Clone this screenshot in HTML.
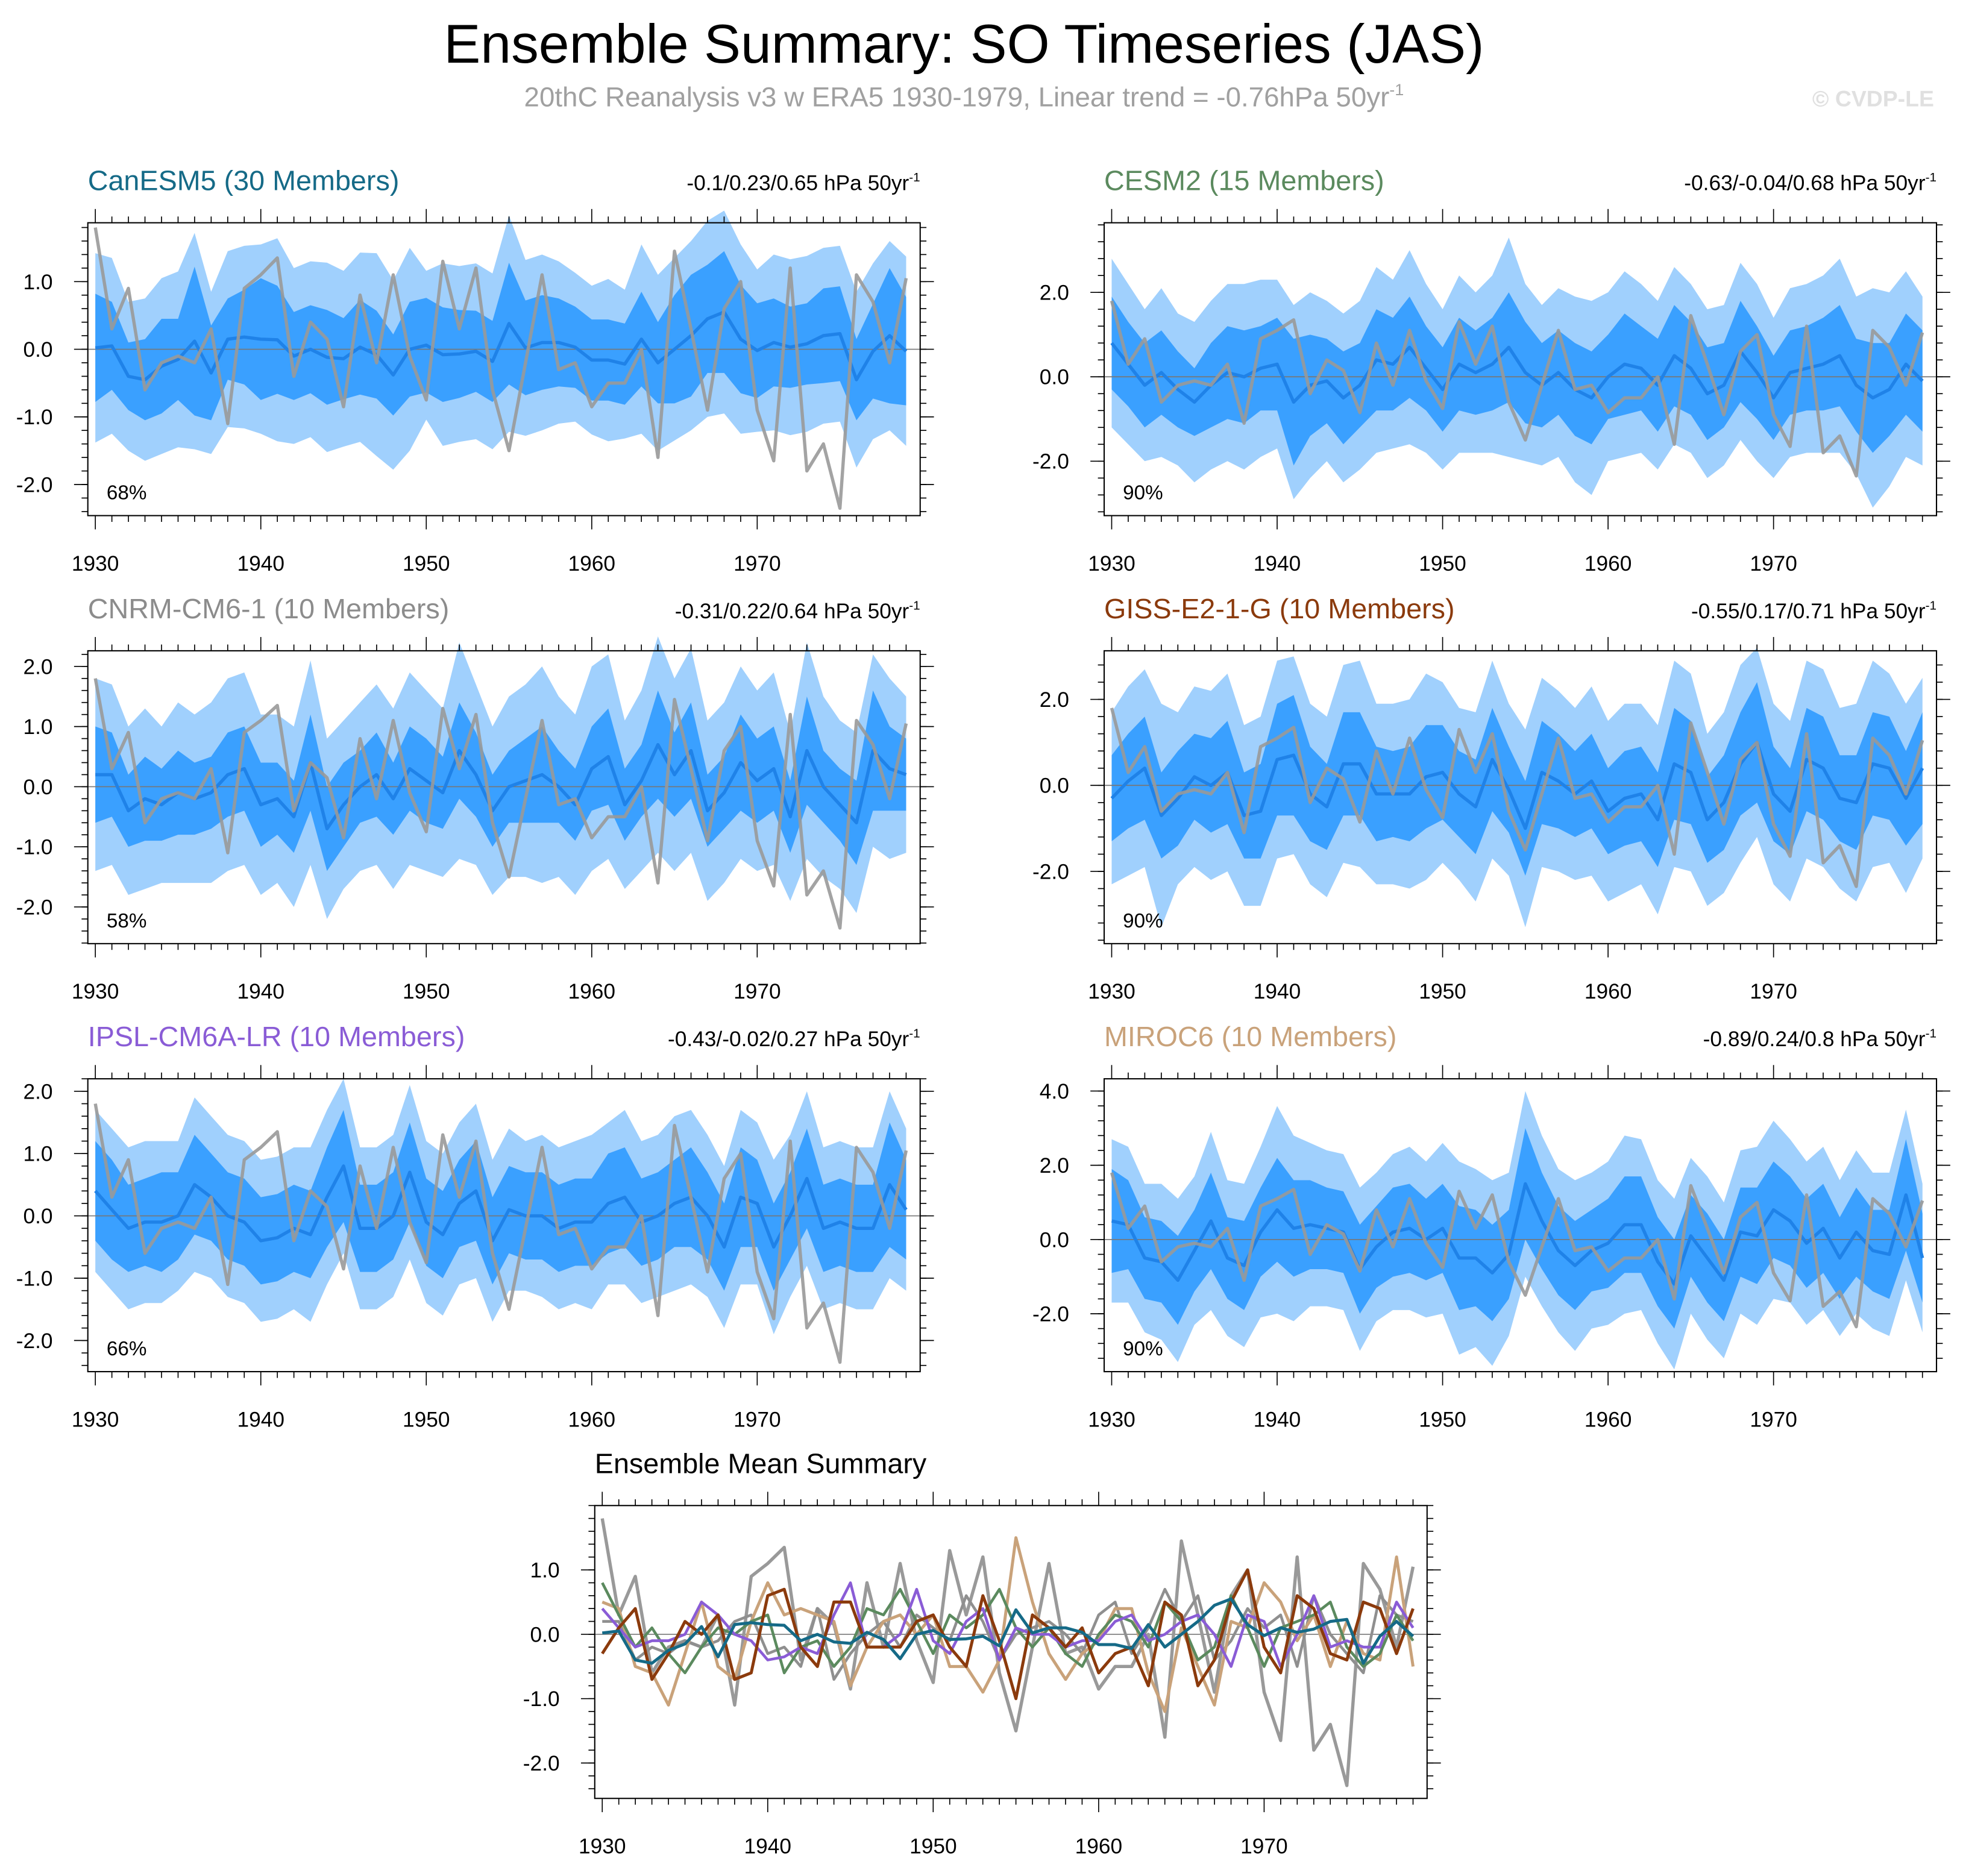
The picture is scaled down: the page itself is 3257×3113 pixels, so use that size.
<!DOCTYPE html>
<html><head><meta charset="utf-8">
<style>
html,body{margin:0;padding:0;background:#fff;}
svg{display:block;font-family:"Liberation Sans",sans-serif;}
</style></head>
<body>
<svg id="fig" width="3257" height="3113" viewBox="0 0 1568 1499" xmlns="http://www.w3.org/2000/svg">
<text x="770" y="50" font-size="44" text-anchor="middle" fill="#000">Ensemble Summary: SO Timeseries (JAS)</text>
<text x="770" y="85" font-size="22" text-anchor="middle" fill="#a0a0a0">20thC Reanalysis v3 w ERA5 1930-1979, Linear trend = -0.76hPa 50yr<tspan font-size="13" dy="-9">-1</tspan></text>
<text x="1545" y="85" font-size="18" font-weight="bold" text-anchor="end" fill="#e0e0e0">© CVDP-LE</text>
</svg>
<script>
const years = [];
for (let y = 1930; y <= 1979; y++) years.push(y);
const obs = [1.8,0.3,0.9,-0.6,-0.2,-0.1,-0.2,0.3,-1.1,0.9,1.1,1.35,-0.4,0.4,0.15,-0.85,0.8,-0.2,1.1,-0.1,-0.75,1.3,0.3,1.2,-0.6,-1.5,-0.2,1.1,-0.3,-0.2,-0.85,-0.5,-0.5,0.0,-1.6,1.45,0.3,-0.9,0.6,1.0,-0.9,-1.65,1.2,-1.8,-1.4,-2.35,1.1,0.7,-0.2,1.05];
const meanCan = [0.02,0.05,-0.4,-0.45,-0.25,-0.15,0.12,-0.35,0.15,0.18,0.15,0.14,-0.1,0.0,-0.12,-0.14,0.03,-0.08,-0.38,0.0,0.06,-0.08,-0.07,-0.03,-0.18,0.38,0.02,0.1,0.1,0.03,-0.16,-0.16,-0.22,0.15,-0.2,0.0,0.2,0.45,0.55,0.15,-0.02,0.1,0.03,0.08,0.2,0.23,-0.45,-0.03,0.2,-0.03];
const innerCan = [0.8,0.65,0.5,0.6,0.7,0.6,1.1,0.7,0.6,0.7,0.9,0.8,0.65,0.65,0.7,0.6,0.7,0.65,0.6,0.7,0.7,0.7,0.65,0.6,0.6,0.9,0.7,0.7,0.65,0.6,0.6,0.6,0.6,0.7,0.6,0.8,0.9,0.8,0.9,0.8,0.7,0.65,0.6,0.6,0.7,0.7,0.6,0.7,1.0,0.8];
const outerCan = [1.4,1.3,1.1,1.2,1.3,1.3,1.6,1.2,1.3,1.35,1.4,1.5,1.3,1.3,1.4,1.3,1.4,1.5,1.4,1.5,1.1,1.35,1.3,1.3,1.3,1.6,1.3,1.3,1.2,1.1,1.1,1.2,1.1,1.4,1.3,1.35,1.4,1.45,1.5,1.4,1.2,1.3,1.3,1.3,1.3,1.3,1.3,1.3,1.4,1.4];
const meanCes = [0.8,0.3,-0.2,0.1,-0.3,-0.6,-0.2,0.1,0.0,0.2,0.3,-0.6,-0.2,-0.1,-0.5,-0.2,0.4,0.3,0.7,0.2,-0.3,0.3,0.1,0.3,0.7,0.1,-0.2,0.1,-0.3,-0.5,0.0,0.3,0.2,-0.2,0.5,0.2,-0.4,-0.2,0.6,0.1,-0.5,0.1,0.2,0.3,0.5,-0.2,-0.5,-0.3,0.3,-0.1];
const innerCes = [1.1,1.0,1.0,1.0,0.9,0.8,1.0,1.1,1.1,1.0,1.1,1.5,1.2,1.0,1.1,1.0,1.2,1.1,1.2,1.0,1.0,1.1,1.0,1.1,1.3,1.2,1.0,1.0,1.1,1.1,1.0,1.2,1.0,1.1,1.2,1.1,1.1,1.0,1.2,1.1,1.0,1.0,1.0,1.1,1.2,1.1,1.3,1.1,1.2,1.2];
const outerCes = [2.0,1.9,1.8,2.0,1.8,1.9,2.0,2.1,2.2,2.1,2.0,2.3,2.2,1.9,2.0,2.0,2.2,2.0,2.3,2.0,1.9,2.1,1.9,2.1,2.6,2.1,1.9,2.0,2.2,2.3,2.0,2.2,2.0,2.0,2.1,2.0,2.0,1.9,2.1,2.1,1.9,2.0,2.0,2.1,2.3,2.1,2.6,2.3,2.2,2.0];
const meanCnr = [0.2,0.2,-0.4,-0.2,-0.3,-0.1,-0.2,-0.1,0.2,0.3,-0.3,-0.2,-0.5,0.4,-0.7,-0.3,0.0,0.2,-0.2,0.3,0.1,-0.1,0.6,0.2,-0.4,0.0,0.1,0.2,0.0,-0.3,0.3,0.5,-0.3,0.1,0.7,0.2,0.6,-0.4,-0.1,0.4,0.1,0.3,-0.5,0.6,0.0,-0.3,-0.6,0.6,0.3,0.2];
const innerCnr = [0.8,0.7,0.6,0.7,0.6,0.7,0.6,0.6,0.7,0.7,0.7,0.6,0.6,0.8,0.7,0.7,0.6,0.7,0.6,0.7,0.7,0.6,0.8,0.7,0.6,0.6,0.7,0.8,0.6,0.6,0.7,0.8,0.6,0.6,0.9,0.7,0.8,0.6,0.6,0.8,0.7,0.7,0.6,0.9,0.6,0.6,0.7,1.0,0.7,0.6];
const outerCnr = [1.6,1.5,1.4,1.5,1.3,1.5,1.4,1.5,1.6,1.6,1.5,1.4,1.5,1.7,1.5,1.4,1.4,1.5,1.5,1.6,1.5,1.4,1.8,1.5,1.4,1.5,1.6,1.8,1.5,1.5,1.7,1.7,1.4,1.5,1.8,1.6,1.7,1.5,1.5,1.6,1.5,1.6,1.4,1.8,1.5,1.4,1.5,1.6,1.5,1.3];
const meanGis = [-0.3,0.1,0.4,-0.7,-0.3,0.2,0.0,0.3,-0.7,-0.6,0.6,0.7,-0.2,-0.5,0.5,0.5,-0.2,-0.2,-0.2,0.2,0.3,-0.2,-0.5,0.6,-0.1,-1.0,0.3,0.1,-0.2,0.1,-0.6,-0.3,-0.2,-0.8,0.5,0.3,-0.8,-0.4,0.5,1.0,-0.2,-0.6,0.6,0.4,-0.3,-0.4,0.5,0.4,-0.3,0.4];
const innerGis = [1.0,1.1,1.2,1.0,1.1,1.0,1.1,1.2,1.0,1.1,1.3,1.4,1.1,1.0,1.2,1.2,1.1,1.0,1.1,1.2,1.1,1.0,1.1,1.2,1.0,1.1,1.2,1.1,1.0,1.1,1.0,1.1,1.1,1.1,1.3,1.2,1.0,1.1,1.2,1.4,1.1,1.0,1.2,1.2,1.0,1.1,1.2,1.2,1.1,1.3];
const outerGis = [2.0,2.2,2.3,2.6,2.0,2.1,2.2,2.3,2.1,2.2,2.3,2.3,2.1,2.1,2.3,2.4,2.1,2.1,2.2,2.4,2.1,2.0,2.2,2.3,2.0,2.3,2.2,2.1,2.0,2.2,2.1,2.2,2.1,2.2,2.4,2.3,2.0,2.1,2.3,2.2,2.1,2.1,2.3,2.3,2.1,2.3,2.4,2.2,2.2,2.1];
const meanIps = [0.4,0.1,-0.2,-0.1,-0.1,0.0,0.5,0.3,0.0,-0.1,-0.4,-0.35,-0.2,-0.3,0.3,0.8,-0.2,-0.2,0.0,0.7,-0.1,-0.3,0.2,0.4,-0.4,0.1,0.0,0.0,-0.2,-0.1,-0.1,0.2,0.3,-0.1,0.0,0.2,0.3,0.0,-0.5,0.3,0.2,-0.5,0.0,0.6,-0.2,-0.1,-0.2,-0.2,0.5,0.1];
const innerIps = [0.8,0.8,0.7,0.7,0.8,0.7,0.8,0.7,0.7,0.7,0.7,0.7,0.7,0.7,0.8,0.9,0.7,0.7,0.7,0.8,0.7,0.7,0.7,0.8,0.7,0.7,0.7,0.7,0.7,0.7,0.7,0.8,0.8,0.7,0.7,0.7,0.8,0.7,0.7,0.8,0.7,0.7,0.7,0.8,0.7,0.7,0.7,0.7,1.0,0.8];
const outerIps = [1.3,1.3,1.3,1.3,1.3,1.2,1.4,1.3,1.3,1.3,1.3,1.3,1.3,1.4,1.4,1.4,1.3,1.3,1.3,1.4,1.3,1.3,1.3,1.4,1.3,1.3,1.2,1.3,1.3,1.3,1.4,1.3,1.4,1.3,1.3,1.4,1.4,1.3,1.3,1.4,1.3,1.4,1.3,1.4,1.3,1.3,1.3,1.3,1.5,1.3];
const meanMir = [0.5,0.4,-0.5,-0.6,-1.1,-0.3,0.5,-0.5,-0.7,0.2,0.8,0.3,0.4,0.3,0.2,-0.8,-0.2,0.2,0.3,0.0,0.3,-0.5,-0.5,-0.9,-0.4,1.5,0.5,-0.3,-0.7,-0.3,-0.1,0.4,0.4,-0.6,-1.2,0.1,-0.5,-1.1,0.2,0.1,0.8,0.5,-0.1,0.3,-0.5,0.2,-0.3,-0.4,1.2,-0.5];
const innerMir = [1.4,1.2,1.1,1.1,1.2,1.1,1.3,1.1,1.2,1.2,1.4,1.3,1.2,1.1,1.1,1.2,1.1,1.2,1.2,1.1,1.2,1.4,1.3,1.3,1.2,1.5,1.3,1.2,1.2,1.1,1.2,1.3,1.3,1.2,1.2,1.1,1.2,1.1,1.2,1.3,1.3,1.2,1.2,1.2,1.1,1.2,1.1,1.2,1.5,1.2];
const outerMir = [2.2,2.1,2.0,2.1,2.2,2.0,2.4,2.1,2.2,2.3,2.8,2.5,2.2,2.1,2.1,2.2,2.0,2.1,2.2,2.1,2.3,2.6,2.4,2.5,2.2,2.5,2.3,2.2,2.3,2.1,2.2,2.4,2.3,2.2,2.3,2.1,2.2,2.1,2.2,2.4,2.4,2.2,2.2,2.2,2.1,2.2,2.1,2.2,2.3,2.0];
const yTicksCan = [1,0,-1,-2];
const yTicksCes = [2,0,-2];
const yTicksCnr = [2,1,0,-1,-2];
const yTicksGis = [2,0,-2];
const yTicksIps = [2,1,0,-1,-2];
const yTicksMir = [4,2,0,-2];
const yTicksMean = [1,0,-1,-2];
const xTickLabels = [1930,1940,1950,1960,1970];

const NS = 'http://www.w3.org/2000/svg';
const svg = document.getElementById('fig');
function mk(tag, attrs, parent) {
  const e = document.createElementNS(NS, tag);
  for (const k in attrs) e.setAttribute(k, attrs[k]);
  (parent || svg).appendChild(e);
  return e;
}
const W = 665, H = 234;

function setup(x0, y0, ymin, ymax, yminorStep, yTicks, name) {
  const g = mk('g', {});
  
  
  const xs = v => x0 + 6 + (v - 1930) * 13.22;
  const ys = v => y0 + (ymax - v) / (ymax - ymin) * H;
  return {g, xs, ys, x0, y0, ymin, ymax, yminorStep, yTicks};
}

function axes(p) {
  const {g, xs, ys, x0, y0, ymin, ymax, yminorStep, yTicks} = p;
  const ax = mk('g', {stroke: '#000', 'stroke-width': 0.8}, g);
  
  
  for (const yr of years) {
    const major = (yr % 10 === 0);
    const L = major ? 11 : 5;
    const x = xs(yr);
    mk('line', {x1: x, x2: x, y1: y0 + H, y2: y0 + H + L}, ax);
    mk('line', {x1: x, x2: x, y1: y0, y2: y0 - L}, ax);
  }
  const start = Math.ceil(ymin / yminorStep) * yminorStep;
  for (let v = start; v <= ymax + 1e-9; v += yminorStep) {
    const y = ys(v);
    mk('line', {x1: x0, x2: x0 - 5, y1: y, y2: y}, ax);
    mk('line', {x1: x0 + W, x2: x0 + W + 5, y1: y, y2: y}, ax);
  }
  for (const t of yTicks) {
    const y = ys(t);
    mk('line', {x1: x0, x2: x0 - 11, y1: y, y2: y}, ax);
    mk('line', {x1: x0 + W, x2: x0 + W + 11, y1: y, y2: y}, ax);
    const lab = mk('text', {x: x0 - 28, y: y + 6, 'font-size': 17, 'text-anchor': 'end', fill: '#000', stroke: 'none'}, g);
    
    
    lab.textContent = t.toFixed(1);
  }
  for (const t of xTickLabels) {
    const lab = mk('text', {x: xs(t), y: y0 + H + 44, 'font-size': 17, 'text-anchor': 'middle', fill: '#000'}, g);
    
    
    lab.textContent = t;
  }
  const frame = mk('rect', {x: x0, y: y0, width: W, height: H, fill: 'none', stroke: '#000', 'stroke-width': 1}, g);
  
  
}

function line(p, vals, color, width, name, opacity) {
  const pts = vals.map((v, i) => p.xs(years[i]).toFixed(1) + ',' + p.ys(v).toFixed(1)).join(' ');
  const l = mk('polyline', {points: pts, fill: 'none', stroke: color, 'stroke-width': width, 'stroke-linejoin': 'round', opacity: opacity || 1}, p.g);
  
  
}

function band(p, mean, w, color, name) {
  const up = mean.map((m, i) => p.xs(years[i]).toFixed(1) + ',' + p.ys(m + w[i]).toFixed(1));
  const lo = mean.map((m, i) => p.xs(years[i]).toFixed(1) + ',' + p.ys(m - w[i]).toFixed(1)).reverse();
  const poly = mk('polygon', {points: up.concat(lo).join(' '), fill: color}, p.g);
  
  
}

function panel(cfg) {
  const p = setup(cfg.x0, cfg.y0, cfg.ymin, cfg.ymax, cfg.minor, cfg.ticks, cfg.name);
  band(p, cfg.mean, cfg.outer, '#a0d0fd', 'outer-spread-band');
  band(p, cfg.mean, cfg.inner, '#3aa0ff', 'inner-spread-band');
  const z = mk('line', {x1: cfg.x0, x2: cfg.x0 + W, y1: p.ys(0), y2: p.ys(0), stroke: '#777', 'stroke-width': 0.8}, p.g);
  
  
  line(p, cfg.mean, '#1f82e8', 2.6, 'ensemble-mean-line');
  line(p, obs, '#999', 2.6, 'observed-line', 0.9);
  axes(p);
  const t = mk('text', {x: cfg.x0, y: cfg.y0 - 26, 'font-size': 22.5, fill: cfg.color}, p.g);
  
  
  t.textContent = cfg.title;
  const r = mk('text', {x: cfg.x0 + W, y: cfg.y0 - 26, 'font-size': 17, 'text-anchor': 'end', fill: '#000'}, p.g);
  
  
  r.innerHTML = cfg.trend + ' hPa 50yr<tspan font-size="10" dy="-7">-1</tspan>';
  const pc = mk('text', {x: cfg.x0 + 15, y: cfg.y0 + H - 13, 'font-size': 16, fill: '#000'}, p.g);
  
  
  pc.textContent = cfg.pct;
}

panel({name: 'canesm5-panel', x0: 70, y0: 178, ymin: -2.46, ymax: 1.87, minor: 0.2, ticks: yTicksCan, mean: meanCan, inner: innerCan, outer: outerCan, color: '#156a87', title: 'CanESM5 (30 Members)', trend: '-0.1/0.23/0.65', pct: '68%'});
panel({name: 'cesm2-panel', x0: 882, y0: 178, ymin: -3.29, ymax: 3.65, minor: 0.4, ticks: yTicksCes, mean: meanCes, inner: innerCes, outer: outerCes, color: '#5b8a5e', title: 'CESM2 (15 Members)', trend: '-0.63/-0.04/0.68', pct: '90%'});
panel({name: 'cnrm-cm6-1-panel', x0: 70, y0: 520, ymin: -2.61, ymax: 2.26, minor: 0.2, ticks: yTicksCnr, mean: meanCnr, inner: innerCnr, outer: outerCnr, color: '#8c8c8c', title: 'CNRM-CM6-1 (10 Members)', trend: '-0.31/0.22/0.64', pct: '58%'});
panel({name: 'giss-e2-1-g-panel', x0: 882, y0: 520, ymin: -3.68, ymax: 3.13, minor: 0.4, ticks: yTicksGis, mean: meanGis, inner: innerGis, outer: outerGis, color: '#8b3a0c', title: 'GISS-E2-1-G (10 Members)', trend: '-0.55/0.17/0.71', pct: '90%'});
panel({name: 'ipsl-cm6a-lr-panel', x0: 70, y0: 862, ymin: -2.5, ymax: 2.2, minor: 0.2, ticks: yTicksIps, mean: meanIps, inner: innerIps, outer: outerIps, color: '#8a5cd6', title: 'IPSL-CM6A-LR (10 Members)', trend: '-0.43/-0.02/0.27', pct: '66%'});
panel({name: 'miroc6-panel', x0: 882, y0: 862, ymin: -3.56, ymax: 4.33, minor: 0.4, ticks: yTicksMir, mean: meanMir, inner: innerMir, outer: outerMir, color: '#c9a27a', title: 'MIROC6 (10 Members)', trend: '-0.89/0.24/0.8', pct: '90%'});

// Ensemble mean summary
const pm = setup(475, 1203, -2.55, 2.0, 0.2, yTicksMean, 'ensemble-mean-summary-panel');
const zl = mk('line', {x1: 475, x2: 475 + W, y1: pm.ys(0), y2: pm.ys(0), stroke: '#777', 'stroke-width': 0.8}, pm.g);


line(pm, obs, '#999', 2.6, 'observed-line');
line(pm, meanCnr, '#8f8f8f', 2.2, 'cnrm-mean-line');
line(pm, meanMir, '#c9a27a', 2.4, 'miroc6-mean-line');
line(pm, meanCes, '#5b8a5e', 2.2, 'cesm2-mean-line');
line(pm, meanIps, '#8a5cd6', 2.2, 'ipsl-mean-line');
line(pm, meanGis, '#8b3a0c', 2.4, 'giss-mean-line');
line(pm, meanCan, '#156a87', 2.4, 'canesm5-mean-line');
axes(pm);
const st = mk('text', {x: 475, y: 1177, 'font-size': 22.5, fill: '#000'}, pm.g);


st.textContent = 'Ensemble Mean Summary';
</script>
</body></html>
